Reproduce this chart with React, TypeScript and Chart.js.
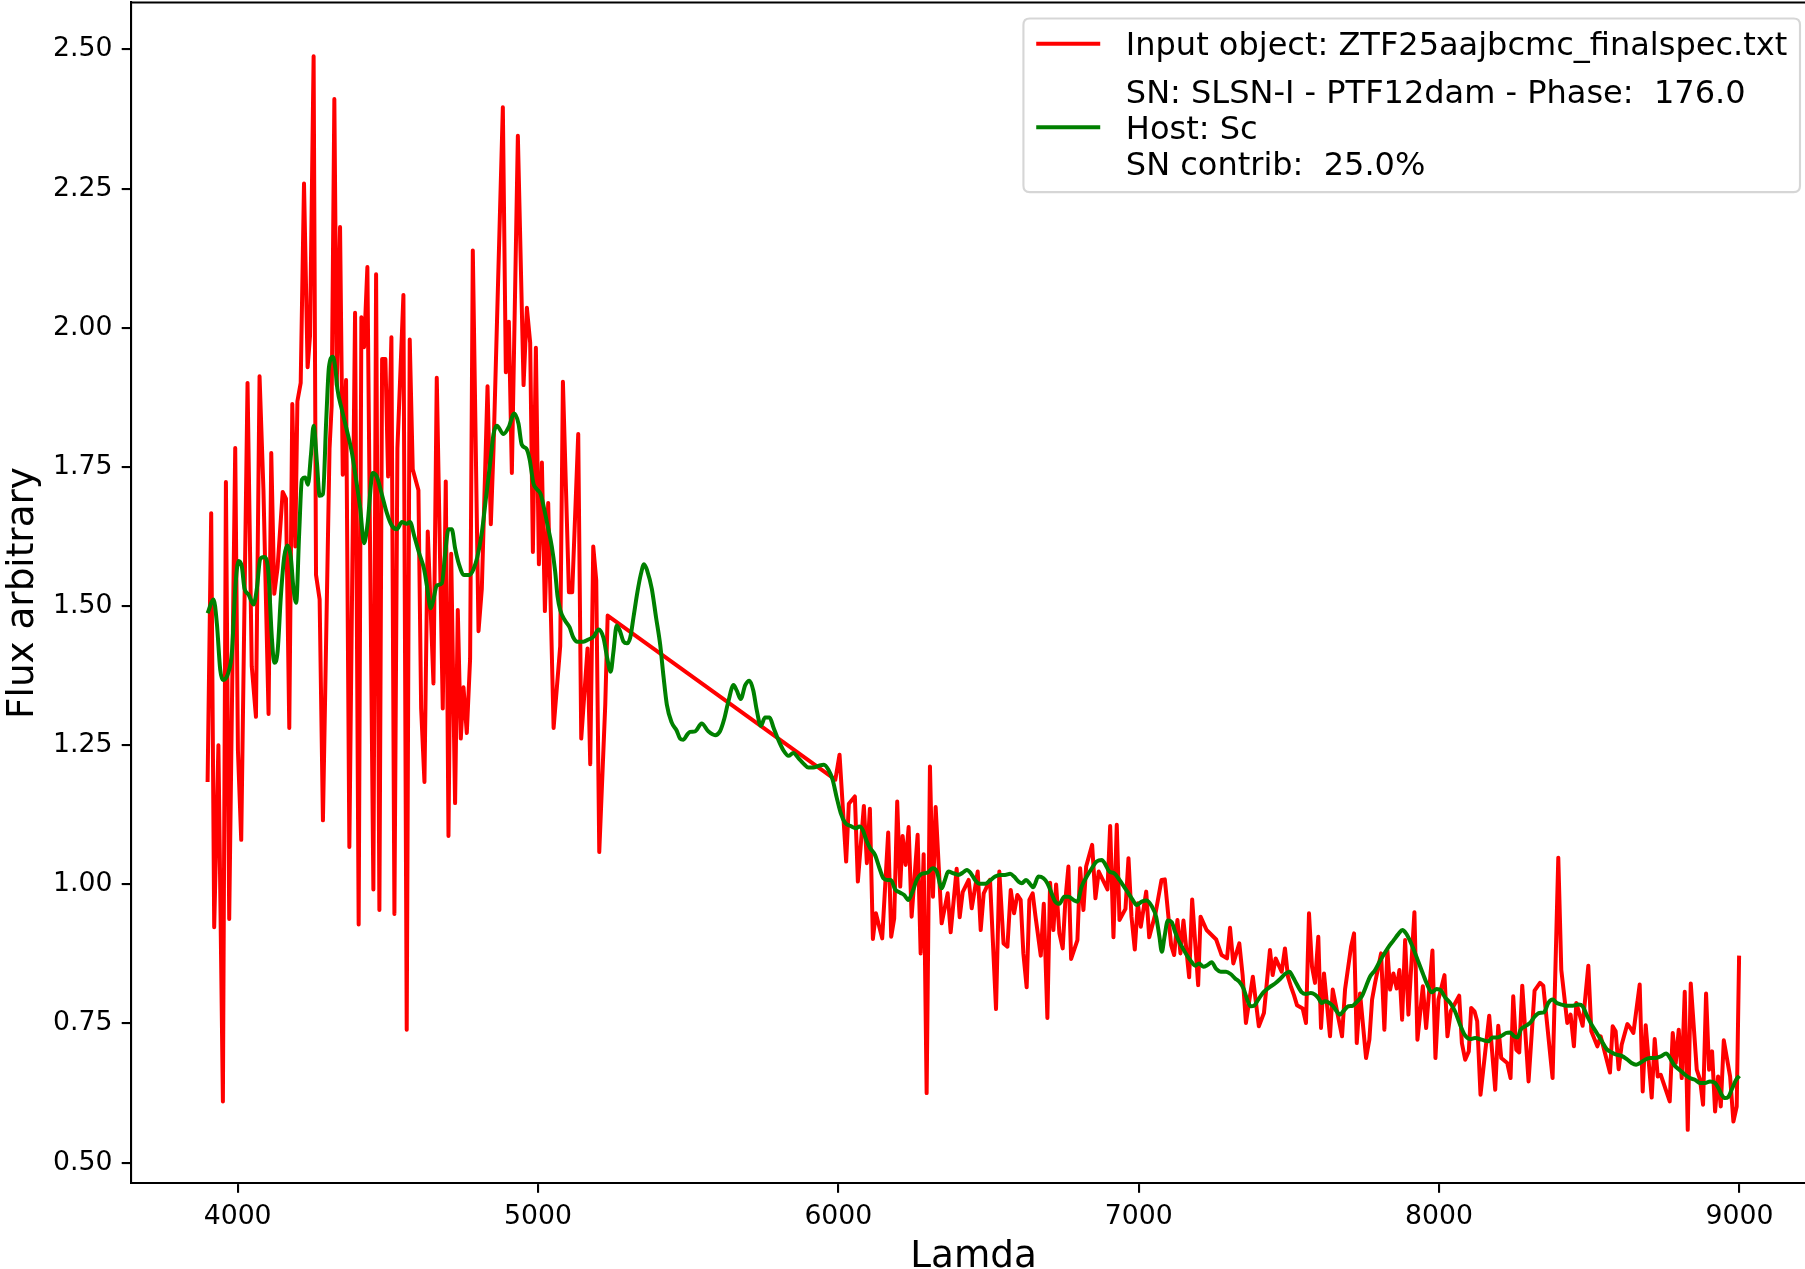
import React, { useEffect, useRef } from "react";
import { Chart, registerables } from "chart.js";

Chart.register(...registerables);

// ---------------- data ----------------
const redLam = [
  3900, 3912, 3922, 3936, 3951, 3961, 3972, 3992, 4001, 4012, 4033, 4047, 4061, 4073, 4086, 4103, 4112, 4122, 4133, 4150,
  4161, 4172, 4182, 4192, 4199, 4210, 4221, 4233, 4241, 4253, 4261, 4273, 4284, 4306, 4313, 4322, 4330, 4341, 4350, 4361,
  4372, 4391, 4403, 4412, 4421, 4432, 4452, 4461, 4472, 4481, 4492, 4501, 4512, 4522, 4532, 4552, 4563, 4573, 4583, 4602,
  4611, 4622, 4633, 4652, 4663, 4683, 4693, 4702, 4711, 4724, 4733, 4743, 4752, 4763, 4774, 4783, 4802, 4813, 4832, 4843,
  4852, 4883, 4893, 4903, 4913, 4933, 4952, 4963, 4974, 4983, 4993, 5003, 5013, 5023, 5034, 5052, 5074, 5083, 5103, 5114,
  5134, 5144, 5165, 5174, 5184, 5194, 5204, 5224, 5232,
  5990, 6004, 6026, 6035, 6055, 6065, 6085, 6095, 6105, 6115, 6125, 6146, 6166, 6176, 6186, 6196, 6206, 6214, 6224, 6234,
  6244, 6264, 6274, 6284, 6294, 6305, 6315, 6324, 6344, 6364, 6374, 6394, 6404, 6414, 6434, 6444, 6464, 6474, 6484, 6505,
  6525, 6536, 6550, 6563, 6574, 6585, 6596, 6607, 6616, 6627, 6636, 6647, 6656, 6674, 6684, 6696, 6705, 6716, 6725, 6736,
  6747, 6756, 6766, 6775, 6796, 6805, 6816, 6825, 6845, 6856, 6867, 6896, 6905, 6916, 6927, 6936, 6956, 6966, 6976, 6987,
  6997, 7007, 7025, 7035, 7056, 7076, 7087, 7108, 7118, 7129, 7139, 7149, 7168, 7178, 7198, 7206, 7226, 7258, 7276, 7294,
  7304, 7315, 7335, 7346, 7357, 7380, 7400, 7417, 7437, 7446, 7456, 7476, 7487, 7497, 7507, 7517, 7527, 7546, 7557, 7567,
  7577, 7587, 7598, 7607, 7617, 7637, 7646, 7677, 7687, 7707, 7717, 7726, 7737, 7757, 7768, 7777, 7787, 7807, 7818, 7828,
  7837, 7848, 7859, 7868, 7877, 7887, 7898, 7918, 7928, 7946, 7957, 7978, 7988, 7998, 8018, 8028, 8039, 8067, 8076, 8087,
  8099, 8107, 8118, 8127, 8138, 8167, 8187, 8197, 8207, 8227, 8238, 8247, 8257, 8267, 8277, 8298, 8318, 8336, 8347, 8378,
  8397, 8407, 8427, 8438, 8449, 8457, 8468, 8478, 8497, 8507, 8527, 8538, 8569, 8578, 8588, 8598, 8608, 8627, 8637, 8647,
  8668, 8678, 8688, 8708, 8718, 8728, 8738, 8768, 8778, 8788, 8798, 8808, 8818, 8828, 8838, 8858, 8869, 8879, 8889, 8899,
  8909, 8919, 8929, 8938, 8948, 8969, 8980, 8991, 8999,
];
const redFlux = [
  1.184, 1.667, 0.923, 1.25, 0.61, 1.723, 0.938, 1.784, 1.241, 1.08, 1.901, 1.392, 1.301, 1.913, 1.708, 1.306, 1.775, 1.522, 1.569, 1.705,
  1.693, 1.281, 1.863, 1.607, 1.868, 1.901, 2.259, 1.929, 1.985, 2.488, 1.556, 1.512, 1.115, 1.783, 1.859, 2.411, 1.897, 2.181, 1.736, 1.906,
  1.067, 2.027, 0.928, 2.019, 1.965, 2.109, 0.991, 2.096, 0.954, 1.944, 1.944, 1.733, 1.983, 0.947, 1.783, 2.059, 0.739, 1.979, 1.746, 1.708,
  1.316, 1.184, 1.634, 1.361, 1.91, 1.316, 1.724, 1.087, 1.594, 1.146, 1.493, 1.262, 1.354, 1.272, 1.405, 2.139, 1.455, 1.531, 1.895, 1.647,
  1.783, 2.396, 1.92, 2.011, 1.739, 2.345, 1.897, 2.036, 1.973, 1.597, 1.964, 1.575, 1.758, 1.491, 1.685, 1.281, 1.428, 1.903, 1.525, 1.525,
  1.809, 1.262, 1.424, 1.216, 1.607, 1.546, 1.058, 1.323, 1.483,
  1.188, 1.233, 1.041, 1.145, 1.158, 1.005, 1.141, 1.038, 1.136, 0.902, 0.948, 0.903, 1.093, 0.906, 0.939, 1.149, 0.996, 1.087, 1.035, 1.103,
  0.942, 1.089, 0.876, 1.054, 0.625, 1.212, 0.978, 1.139, 0.93, 0.984, 0.914, 1.028, 0.941, 0.986, 1.008, 0.957, 1.023, 0.918, 0.984, 1.008,
  0.776, 1.023, 0.894, 0.888, 0.99, 0.948, 0.981, 0.972, 0.876, 0.815, 0.972, 0.984, 0.944, 0.872, 0.965, 0.76, 1.003, 0.918, 1.0, 0.912,
  0.885, 0.972, 1.032, 0.866, 0.9, 1.029, 0.954, 1.032, 1.071, 0.975, 1.023, 0.991, 1.105, 0.905, 1.107, 0.936, 0.956, 1.047, 0.942, 0.883,
  0.966, 0.924, 0.987, 0.905, 0.948, 1.008, 1.009, 0.891, 0.873, 0.936, 0.876, 0.935, 0.833, 0.973, 0.819, 0.942, 0.918, 0.901, 0.873, 0.867,
  0.922, 0.858, 0.894, 0.837, 0.751, 0.834, 0.745, 0.769, 0.882, 0.837, 0.867, 0.843, 0.885, 0.834, 0.816, 0.801, 0.783, 0.777, 0.751, 0.948,
  0.852, 0.823, 0.906, 0.742, 0.84, 0.727, 0.811, 0.727, 0.811, 0.888, 0.912, 0.715, 0.804, 0.688, 0.721, 0.793, 0.823, 0.876, 0.739, 0.882,
  0.811, 0.84, 0.813, 0.846, 0.757, 0.9, 0.766, 0.95, 0.721, 0.817, 0.742, 0.881, 0.688, 0.793, 0.837, 0.727, 0.772, 0.8, 0.715, 0.685,
  0.7, 0.778, 0.772, 0.754, 0.622, 0.764, 0.631, 0.746, 0.688, 0.679, 0.652, 0.799, 0.703, 0.698, 0.818, 0.646, 0.809, 0.823, 0.818, 0.652,
  1.048, 0.846, 0.751, 0.766, 0.709, 0.787, 0.766, 0.746, 0.854, 0.736, 0.709, 0.727, 0.662, 0.745, 0.736, 0.668, 0.712, 0.749, 0.742, 0.733,
  0.82, 0.628, 0.747, 0.617, 0.722, 0.655, 0.658, 0.61, 0.733, 0.679, 0.739, 0.652, 0.807, 0.559, 0.822, 0.667, 0.649, 0.604, 0.804, 0.667,
  0.7, 0.592, 0.655, 0.601, 0.72, 0.655, 0.574, 0.601, 0.872,
];

const greenLam = [
  3900, 3920, 3931, 3942, 3951, 3970, 3981, 3992, 4003, 4014, 4023, 4036, 4053, 4064, 4075, 4088, 4101, 4114, 4122, 4133,
  4144, 4155, 4166, 4177, 4186, 4195, 4205, 4214, 4225, 4234, 4244, 4253, 4264, 4273, 4284, 4295, 4304, 4317, 4325, 4332,
  4347, 4364, 4380, 4391, 4408, 4421, 4432, 4450, 4463, 4480, 4497, 4513, 4530, 4547, 4563, 4574, 4588, 4605, 4621, 4630,
  4643, 4652, 4663, 4680, 4691, 4702, 4713, 4724, 4737, 4754, 4772, 4785, 4798, 4813, 4827, 4841, 4852, 4863, 4885, 4902,
  4921, 4935, 4946, 4961, 4972, 4985, 4996, 5009, 5020, 5032, 5046, 5057, 5065, 5074, 5090, 5105, 5118, 5131, 5151, 5168,
  5185, 5202, 5218, 5231, 5242, 5251, 5262, 5273, 5285, 5296, 5307, 5318, 5331, 5342, 5353, 5364, 5379, 5393, 5407, 5418,
  5429, 5445, 5462, 5473, 5484, 5498, 5506, 5523, 5545, 5567, 5590, 5606, 5620, 5634, 5651, 5662, 5675, 5690, 5704, 5717,
  5728, 5742, 5756, 5771, 5784, 5800, 5817, 5834, 5850, 5867, 5884, 5900, 5917, 5934, 5952, 5967, 5981, 5995, 6008, 6022,
  6041, 6059, 6070, 6081, 6095, 6106, 6122, 6137, 6150, 6163, 6175, 6189, 6206, 6219, 6233, 6247, 6261, 6278, 6297, 6314,
  6328, 6344, 6355, 6366, 6383, 6400, 6414, 6428, 6441, 6455, 6470, 6489, 6505, 6522, 6538, 6555, 6572, 6585, 6600, 6611,
  6625, 6638, 6649, 6666, 6683, 6696, 6710, 6722, 6736, 6752, 6766, 6783, 6796, 6810, 6827, 6844, 6860, 6877, 6888, 6902,
  6918, 6936, 6951, 6966, 6980, 6993, 7010, 7027, 7043, 7058, 7069, 7077, 7086, 7097, 7110, 7121, 7132, 7147, 7160, 7173,
  7188, 7201, 7215, 7229, 7243, 7258, 7273, 7291, 7306, 7321, 7335, 7349, 7362, 7373, 7384, 7398, 7415, 7435, 7454, 7471,
  7487, 7502, 7513, 7526, 7543, 7557, 7573, 7587, 7598, 7609, 7620, 7632, 7646, 7659, 7670, 7681, 7698, 7713, 7728, 7743,
  7757, 7770, 7787, 7801, 7815, 7831, 7848, 7865, 7878, 7890, 7903, 7917, 7931, 7946, 7959, 7976, 7992, 8005, 8020, 8037,
  8053, 8070, 8086, 8103, 8120, 8142, 8164, 8178, 8194, 8208, 8223, 8236, 8250, 8261, 8272, 8286, 8303, 8319, 8334, 8349,
  8364, 8378, 8392, 8408, 8425, 8445, 8464, 8478, 8491, 8508, 8525, 8541, 8558, 8575, 8591, 8608, 8625, 8641, 8656, 8669,
  8686, 8702, 8719, 8738, 8756, 8769, 8782, 8800, 8819, 8835, 8852, 8869, 8885, 8902, 8919, 8930, 8941, 8952, 8963, 8974,
  8989, 9000,
];
const greenFlux = [
  1.487, 1.512, 1.468, 1.386, 1.367, 1.382, 1.417, 1.531, 1.581, 1.571, 1.531, 1.521, 1.503, 1.531, 1.584, 1.588, 1.569, 1.443, 1.398, 1.418,
  1.518, 1.588, 1.609, 1.588, 1.531, 1.506, 1.632, 1.727, 1.731, 1.718, 1.771, 1.824, 1.758, 1.698, 1.701, 1.834, 1.929, 1.948, 1.929, 1.891,
  1.853, 1.815, 1.777, 1.739, 1.676, 1.613, 1.645, 1.739, 1.733, 1.701, 1.667, 1.645, 1.638, 1.651, 1.648, 1.651, 1.626, 1.594, 1.566, 1.537,
  1.496, 1.512, 1.537, 1.541, 1.594, 1.638, 1.638, 1.604, 1.575, 1.556, 1.556, 1.566, 1.588, 1.632, 1.695, 1.758, 1.809, 1.824, 1.809, 1.821,
  1.846, 1.828, 1.79, 1.783, 1.764, 1.72, 1.71, 1.701, 1.676, 1.645, 1.607, 1.563, 1.518, 1.493, 1.474, 1.462, 1.443, 1.436, 1.436, 1.44,
  1.445, 1.458, 1.443, 1.405, 1.382, 1.417, 1.465, 1.455, 1.436, 1.433, 1.443, 1.48, 1.525, 1.556, 1.575, 1.563, 1.531, 1.48, 1.43, 1.373,
  1.323, 1.291, 1.276, 1.262, 1.26, 1.27, 1.274, 1.275, 1.289, 1.275, 1.268, 1.275, 1.297, 1.329, 1.358, 1.348, 1.333, 1.358, 1.366, 1.348,
  1.314, 1.285, 1.3, 1.3, 1.282, 1.26, 1.241, 1.231, 1.236, 1.227, 1.217, 1.21, 1.21, 1.213, 1.215, 1.206, 1.188, 1.155, 1.128, 1.111,
  1.105, 1.101, 1.104, 1.098, 1.077, 1.065, 1.053, 1.029, 1.011, 1.008, 1.008, 0.991, 0.985, 0.981, 0.972, 0.987, 1.008, 1.019, 1.021, 1.029,
  1.023, 0.993, 1.008, 1.023, 1.02, 1.017, 1.021, 1.026, 1.02, 1.008, 1.001, 1.001, 1.007, 1.014, 1.017, 1.017, 1.019, 1.014, 1.005, 1.002,
  1.008, 1.001, 0.995, 1.014, 1.011, 1.002, 0.984, 0.969, 0.965, 0.978, 0.978, 0.972, 0.969, 0.996, 1.014, 1.029, 1.041, 1.044, 1.037, 1.023,
  1.02, 1.008, 0.996, 0.984, 0.972, 0.963, 0.969, 0.971, 0.961, 0.942, 0.906, 0.879, 0.906, 0.935, 0.932, 0.915, 0.9, 0.885, 0.873, 0.863,
  0.854, 0.858, 0.852, 0.855, 0.86, 0.848, 0.843, 0.843, 0.839, 0.831, 0.825, 0.813, 0.792, 0.781, 0.782, 0.793, 0.806, 0.815, 0.822, 0.83,
  0.839, 0.843, 0.834, 0.821, 0.806, 0.803, 0.805, 0.802, 0.796, 0.787, 0.79, 0.788, 0.782, 0.772, 0.766, 0.772, 0.781, 0.782, 0.79, 0.799,
  0.817, 0.834, 0.846, 0.86, 0.873, 0.887, 0.899, 0.911, 0.918, 0.912, 0.899, 0.881, 0.861, 0.84, 0.822, 0.806, 0.812, 0.81, 0.797, 0.787,
  0.772, 0.748, 0.729, 0.722, 0.724, 0.721, 0.718, 0.725, 0.725, 0.728, 0.733, 0.734, 0.727, 0.725, 0.739, 0.745, 0.751, 0.763, 0.769, 0.77,
  0.787, 0.793, 0.787, 0.784, 0.782, 0.782, 0.784, 0.781, 0.766, 0.748, 0.733, 0.719, 0.704, 0.698, 0.694, 0.692, 0.686, 0.679, 0.676, 0.679,
  0.685, 0.688, 0.688, 0.691, 0.696, 0.688, 0.676, 0.667, 0.658, 0.652, 0.649, 0.643, 0.643, 0.646, 0.643, 0.634, 0.622, 0.616, 0.618, 0.631,
  0.649, 0.656,
];

const inputLabel = "Input object: ZTF25aajbcmc_finalspec.txt";
const templateLabel = "SN: SLSN-I - PTF12dam - Phase:  176.0\nHost: Sc\nSN contrib:  25.0%";
const xTitle = "Lamda";
const yTitle = "Flux arbitrary";
const xRange = [3645, 9255];
const yRange = [0.4626, 2.5844];
const xTickValues = [4000, 5000, 6000, 7000, 8000, 9000];
const yTickValues = [0.5, 0.75, 1.0, 1.25, 1.5, 1.75, 2.0, 2.25, 2.5];

// ---------------- layout ----------------
const W = 1830;
const H = 1280;
const AREA = { left: 131, top: 2.5, right: 1816, bottom: 1183.5 };
const FAMILY = "'DejaVu Sans', 'Liberation Sans', sans-serif";
const TICK_SIZE = 26.7;
const LABEL_SIZE = 37.3;
const LEGEND_SIZE = 32;

const zeroPadding = (s: any) => {
  s.paddingTop = 0;
  s.paddingBottom = 0;
  s.paddingLeft = 0;
  s.paddingRight = 0;
};

const framePlugin = {
  id: "mplFrame",
  afterDatasetsDraw(chart: any) {
    const { ctx, chartArea } = chart;
    ctx.save();
    ctx.strokeStyle = "#000";
    ctx.lineWidth = 2.1;
    ctx.beginPath();
    ctx.moveTo(chartArea.left, chartArea.top);
    ctx.lineTo(chartArea.right, chartArea.top);
    ctx.lineTo(chartArea.right, chartArea.bottom);
    ctx.stroke();
    ctx.restore();
  },
};

const legendPlugin = {
  id: "mplLegend",
  afterDraw(chart: any) {
    const { ctx, chartArea } = chart;
    const ds = chart.data.datasets;
    const fs = LEGEND_SIZE;
    ctx.save();
    ctx.font = `${fs}px ${FAMILY}`;
    const pad = 0.4 * fs;
    const handleLen = 2 * fs;
    const textPad = 0.8 * fs;
    let maxW = 0;
    ds.forEach((d: any) => {
      String(d.label)
        .split("\n")
        .forEach((l) => {
          maxW = Math.max(maxW, ctx.measureText(l).width);
        });
    });
    const boxW = pad + handleLen + textPad + maxW + pad;
    const right = chartArea.right - 0.5 * fs;
    const top = chartArea.top + 0.5 * fs;
    const left = right - boxW;
    const lineStep = 36.3;
    const firstCenter = 25.2;
    const entryGap = 47.3;
    const entries: { centers: number[]; lines: string[]; color: string }[] = [];
    let c = top + firstCenter;
    ds.forEach((d: any) => {
      const lines = String(d.label).split("\n");
      const centers = lines.map((_, k) => c + k * lineStep);
      entries.push({ centers, lines, color: d.borderColor });
      c = centers[centers.length - 1] + entryGap;
    });
    const lastCenter = entries[entries.length - 1].centers.slice(-1)[0];
    const bottom = lastCenter + 28.5;
    const r = 0.2 * fs;
    ctx.beginPath();
    ctx.moveTo(left + r, top);
    ctx.lineTo(right - r, top);
    ctx.quadraticCurveTo(right, top, right, top + r);
    ctx.lineTo(right, bottom - r);
    ctx.quadraticCurveTo(right, bottom, right - r, bottom);
    ctx.lineTo(left + r, bottom);
    ctx.quadraticCurveTo(left, bottom, left, bottom - r);
    ctx.lineTo(left, top + r);
    ctx.quadraticCurveTo(left, top, left + r, top);
    ctx.closePath();
    ctx.fillStyle = "rgba(255,255,255,0.8)";
    ctx.fill();
    ctx.strokeStyle = "rgba(204,204,204,0.8)";
    ctx.lineWidth = 2.1;
    ctx.stroke();

    entries.forEach((e) => {
      const mid = (e.centers[0] + e.centers[e.centers.length - 1]) / 2;
      ctx.strokeStyle = e.color;
      ctx.lineWidth = 4;
      ctx.beginPath();
      ctx.moveTo(left + pad, mid);
      ctx.lineTo(left + pad + handleLen, mid);
      ctx.stroke();
      ctx.fillStyle = "#000";
      ctx.textAlign = "left";
      ctx.textBaseline = "alphabetic";
      e.lines.forEach((l, k) => {
        ctx.fillText(l, left + pad + handleLen + textPad, e.centers[k] + 0.729 * fs * 0.5);
      });
    });
    ctx.restore();
  },
};

export default function App() {
  const ref = useRef<HTMLCanvasElement | null>(null);

  useEffect(() => {
    if (!ref.current) return;
    const redData = redLam.map((x, i) => ({ x, y: redFlux[i] }));
    const greenData = greenLam.map((x, i) => ({ x, y: greenFlux[i] }));
    const chart = new Chart(ref.current, {
      type: "line",
      data: {
        datasets: [
          {
            label: inputLabel,
            data: redData,
            borderColor: "#ff0000",
            borderWidth: 4,
            pointRadius: 0,
            tension: 0,
            borderJoinStyle: "round",
            fill: false,
            order: 1,
          },
          {
            label: templateLabel,
            data: greenData,
            borderColor: "#008000",
            borderWidth: 4,
            pointRadius: 0,
            cubicInterpolationMode: "monotone",
            borderJoinStyle: "round",
            fill: false,
            order: 0,
          },
        ],
      },
      options: {
        animation: false,
        responsive: false,
        devicePixelRatio: 1,
        layout: { padding: { left: 0, top: AREA.top, right: W - AREA.right, bottom: 0 } },
        plugins: {
          legend: { display: false },
          tooltip: { enabled: false },
        },
        scales: {
          x: {
            type: "linear",
            min: xRange[0],
            max: xRange[1],
            afterBuildTicks: (s: any) => {
              s.ticks = xTickValues.map((v) => ({ value: v }));
            },
            afterFit: (s: any) => {
              s.height = H - AREA.bottom;
              zeroPadding(s);
            },
            border: { display: true, color: "#000", width: 2.1 },
            grid: { drawOnChartArea: false, drawTicks: true, tickLength: 9.3, color: "#000", lineWidth: 2.1 },
            ticks: {
              autoSkip: false,
              maxRotation: 0,
              minRotation: 0,
              padding: 8,
              color: "#000",
              font: { family: FAMILY, size: TICK_SIZE },
              callback: (v: any) => String(v),
            },
            title: {
              display: true,
              text: xTitle,
              color: "#000",
              font: { family: FAMILY, size: LABEL_SIZE, lineHeight: 1.2 },
              padding: { top: 0, bottom: 0 },
            },
          },
          y: {
            type: "linear",
            min: yRange[0],
            max: yRange[1],
            afterBuildTicks: (s: any) => {
              s.ticks = yTickValues.map((v) => ({ value: v }));
            },
            afterFit: (s: any) => {
              s.width = AREA.left;
              zeroPadding(s);
            },
            border: { display: true, color: "#000", width: 2.1 },
            grid: { drawOnChartArea: false, drawTicks: true, tickLength: 9.3, color: "#000", lineWidth: 2.1 },
            ticks: {
              autoSkip: false,
              padding: 9.3,
              color: "#000",
              font: { family: FAMILY, size: TICK_SIZE },
              callback: (v: any) => Number(v).toFixed(2),
            },
            title: {
              display: true,
              text: yTitle,
              color: "#000",
              font: { family: FAMILY, size: LABEL_SIZE, lineHeight: 1.2 },
              padding: { top: 1, bottom: 0 },
            },
          },
        },
      },
      plugins: [framePlugin, legendPlugin],
    } as any);
    return () => chart.destroy();
  }, []);

  return (
    <div
      style={{
        position: "absolute",
        left: 0,
        top: 0,
        width: 1805,
        height: 1269,
        overflow: "hidden",
        background: "#fff",
      }}
    >
      <canvas ref={ref} width={W} height={H} style={{ display: "block", width: W, height: H }} />
    </div>
  );
}
